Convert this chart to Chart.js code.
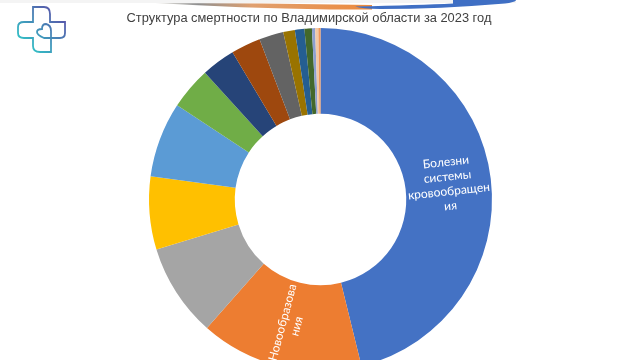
<!DOCTYPE html>
<html lang="ru">
<head>
<meta charset="utf-8">
<title>Структура смертности</title>
<script src="https://cdn.jsdelivr.net/npm/chart.js@4"></script>
<style>
    html, body { margin: 0; padding: 0; background: #fff; }
    body { width: 640px; height: 360px; overflow: hidden; position: relative; }
    #wrap { position: absolute; left: 0; top: 0; width: 640px; height: 371px; }
    #decor { position: absolute; left: 0; top: 0; }
    #chartTitle {
        position: absolute; left: 0; top: 10px; width: 618px; text-align: center;
        font: 12.85px/16px "Liberation Sans", sans-serif; color: #404040; white-space: nowrap;
    }
</style>
</head>
<body>
<div id="wrap"><canvas id="deathChart" width="640" height="371"></canvas></div>
<div id="chartTitle"></div>
<svg id="decor" width="640" height="60" viewBox="0 0 640 60" fill="none">
    <defs>
        <linearGradient id="lg" x1="0" y1="1" x2="1" y2="0">
            <stop offset="0.1" stop-color="#2fc8c8"/>
            <stop offset="0.9" stop-color="#5a50a8"/>
        </linearGradient>
        <linearGradient id="band" x1="0" y1="0" x2="1" y2="0">
            <stop offset="0" stop-color="#e8e6e0"/>
            <stop offset="0.2" stop-color="#8f8f8f"/>
            <stop offset="0.45" stop-color="#e0a070"/>
            <stop offset="1" stop-color="#ed8a3c"/>
        </linearGradient>
    </defs>
    <rect x="0" y="0" width="640" height="3" fill="#f4f4f4"/>
    <rect x="516" y="0" width="124" height="3" fill="#fff"/>
    <path d="M155 3 Q260 3 372 5 L372 9.5 H330 Q240 8 155 3 Z" fill="url(#band)"/>
    <path d="M355 6.5 Q420 5 453 3.5 V0 H516 Q516 2 505 3.5 Q440 9 380 9 Q362 8.5 355 6.5 Z" fill="#3f6fc4"/>
    <path d="M33 22 V7 H44 Q50 7 50 14 V22 H65 V33 Q65 38 60 38 H51 V52 H40 Q33 52 33 46 V38 H24 Q18 38 18 33 V27 Q18 22 24 22 Z M51 38 H44 Q37 35 37 32 Q37 29 42 29 Q42 24 46 24 Q51 25 51 31 V52" stroke="url(#lg)" stroke-width="1.8"/>
</svg>
<script>
const ctx = document.getElementById("deathChart");

const causes = [
    "Болезни системы кровообращения",
    "Новообразования",
    "Прочие 1", "Прочие 2", "Прочие 3", "Прочие 4", "Прочие 5", "Прочие 6",
    "Прочие 7", "Прочие 8", "Прочие 9", "Прочие 10", "Прочие 11", "Прочие 12", "Прочие 13"
];
const shares = [46.3, 15.4, 8.8, 6.9, 7.1, 4.0, 3.2, 2.8, 2.3, 1.1, 0.9, 0.7, 0.3, 0.3, 0.2];
const colors = [
    "#4472C4", "#ED7D31", "#A5A5A5", "#FFC000", "#5B9BD5", "#70AD47", "#264478", "#9E480E",
    "#636363", "#997300", "#255E91", "#43682B", "#8C9FD0", "#F1C9A5", "#F1975A"
];

document.getElementById("chartTitle").textContent = "Структура смертности по Владимирской области за 2023 год";

// подписи внутри секторов
const sliceLabels = [
    { index: 0, lines: ["Болезни", "системы", "кровообращен", "ия"], rotate: -6, shiftX: 0, shiftY: 0 },
    { index: 1, lines: ["Новообразова", "ния"], rotate: -75, shiftX: 0, shiftY: 0 }
];

const labelPlugin = {
    id: "sliceLabels",
    afterDatasetsDraw(chart) {
        const meta = chart.getDatasetMeta(0);
        const c = chart.ctx;
        sliceLabels.forEach((item) => {
            const pos = meta.data[item.index].tooltipPosition();
            c.save();
            c.translate(pos.x + item.shiftX, pos.y + item.shiftY);
            c.rotate(item.rotate * Math.PI / 180);
            c.fillStyle = "#fff";
            c.font = "12px Lato";
            c.textAlign = "center";
            c.textBaseline = "middle";
            item.lines.forEach((line, i) => {
                c.fillText(line, 0, (i - (item.lines.length - 1) / 2) * 14.7);
            });
            c.restore();
        });
    }
};

new Chart(ctx, {
    type: "doughnut",
    data: {
        labels: causes,
        datasets: [
            {
                data: shares,
                backgroundColor: colors,
                borderWidth: 0,
            },
        ],
    },
    options: {
        responsive: false,
        animation: false,
        cutout: "50%",
        layout: { padding: { left: 1, right: 0, top: 28, bottom: 0 } },
        plugins: {
            legend: { display: false },
            tooltip: { enabled: false },
        },
    },
    plugins: [labelPlugin],
});
</script>
</body>
</html>
